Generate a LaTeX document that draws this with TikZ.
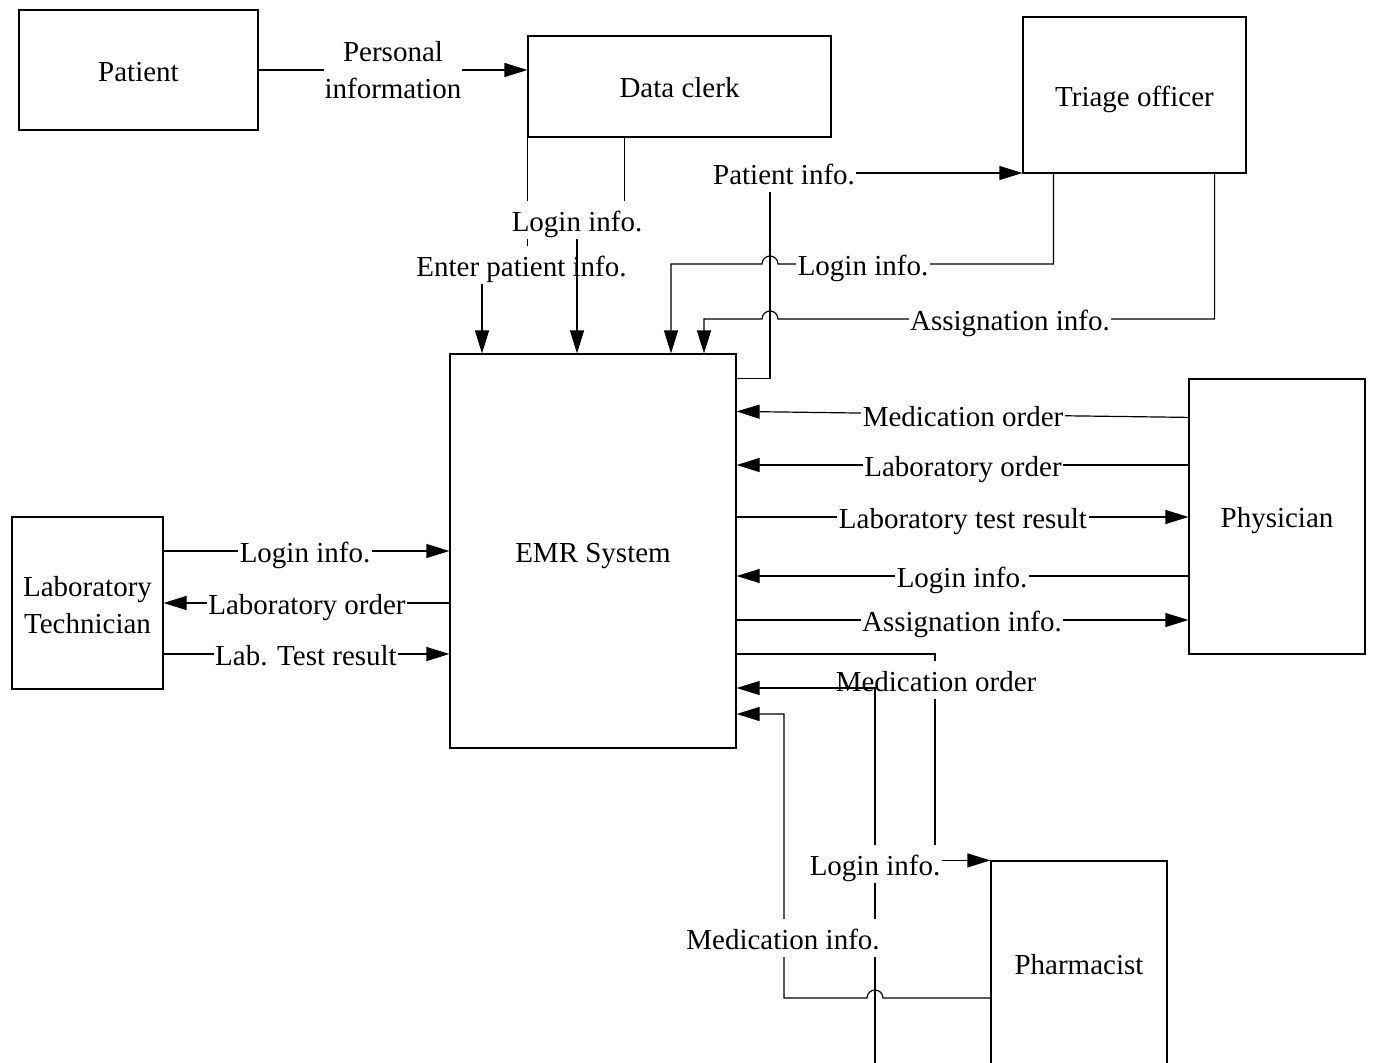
\documentclass[tikz,border=0pt]{standalone}
\usepackage{fontspec}
\setmainfont{Liberation Serif}
\usetikzlibrary{arrows.meta}
\begin{document}
\begin{tikzpicture}[x=1pt,y=-1pt,
  txt/.style={font=\fontsize{29}{37}\selectfont},
  oneline/.style={text height=30pt, text depth=8pt},
  entity/.style={txt, draw, line width=1.2pt, inner sep=0pt, align=center},
  flow/.style={line width=1.2pt},
  arr/.style={flow, -{Triangle[length=23pt,width=14pt]}},
  lbl/.style={txt, oneline, fill=white, inner xsep=1.5pt, inner ysep=0pt, align=center}
]
\useasboundingbox (0,0) rectangle (1374,1063);

% external entities and the system
\node[entity, oneline, minimum width=239pt, minimum height=120pt] (patient) at (138.5,70) {Patient};
\node[entity, oneline, minimum width=303pt, minimum height=101pt] (clerk) at (679.5,86.5) {Data clerk};
\node[entity, oneline, minimum width=223pt, minimum height=156pt] (triage) at (1134.5,95) {Triage officer};
\node[entity, oneline, minimum width=286pt, minimum height=394pt] (emr) at (593,551) {EMR System};
\node[entity, oneline, minimum width=176pt, minimum height=275pt] (phys) at (1277,516.5) {Physician};
\node[entity, minimum width=151pt, minimum height=172pt] (lab) at (87.5,603) {};
\node[txt, align=center] (labtext) at (87.5,605) {Laboratory\\Technician};
\node[entity, oneline, minimum width=176pt, minimum height=204pt] (pharm) at (1079,963) {Pharmacist};

% bend points
\coordinate (c1) at (482,265);
\coordinate (c2) at (577,220);
\coordinate (c3) at (770,173);
\coordinate (c4) at (671,264);
\coordinate (c5) at (704,319);
\coordinate (c6) at (935,654);
\coordinate (c7) at (875,688);
\coordinate (phlog) at (875,1064);
\coordinate (c8) at (784,714);

% patient -> data clerk
\draw[arr] (patient.east) -- (clerk.west |- patient.east);
\node[txt, fill=white, inner sep=1pt, align=center] (lpers) at (393,70) {Personal\\information};

% data clerk -> EMR
\draw[arr] (clerk.south west) |- (c1) -- (c1 |- emr.north);
\node[lbl] (lenter) at (521.5,265) {Enter patient info.};
\draw[arr] ([xshift=97pt]clerk.south west) |- (c2) -- (c2 |- emr.north);
\node[lbl] (lclogin) at (577,220) {Login info.};

% EMR -> triage officer
\draw[arr] ([yshift=-25pt]emr.north east) -| (c3) -- (c3 -| triage.west);
\node[lbl] (lpinfo) at (784,173) {Patient info.};

% triage officer -> EMR (hopping over the patient info. line)
\draw[arr] ([xshift=31pt]triage.south west) |- (778,264)
  arc[start angle=0, end angle=180, radius=8pt] -- (c4) -- (c4 |- emr.north);
\node[lbl] (ltlogin) at (863,264) {Login info.};
\draw[arr] ([xshift=-32pt]triage.south east) |- (778,319)
  arc[start angle=0, end angle=180, radius=8pt] -- (c5) -- (c5 |- emr.north);
\node[lbl] (ltassign) at (1010,319) {Assignation info.};

% physician <-> EMR
\draw[arr] ([yshift=-39pt]phys.north west) -- ([yshift=-58pt]emr.north east);
\node[lbl] (lpmed) at (963,415) {Medication order};
\draw[arr] (phys.west |- 0,465) -- (emr.east |- 0,465);
\node[lbl] (lplab) at (963,465) {Laboratory order};
\draw[arr] (emr.east |- 0,517) -- (phys.west |- 0,517);
\node[lbl] (lpres) at (963,517) {Laboratory test result};
\draw[arr] (phys.west |- 0,576) -- (emr.east |- 0,576);
\node[lbl] (lplogin) at (962,576) {Login info.};
\draw[arr] (emr.east |- 0,620) -- (phys.west |- 0,620);
\node[lbl] (lpassign) at (962,620) {Assignation info.};

% laboratory technician <-> EMR
\draw[arr] (lab.east |- 0,551) -- (emr.west |- 0,551);
\node[lbl] (lllogin) at (305,551) {Login info.};
\draw[arr] (emr.west |- 0,603) -- (lab.east |- 0,603);
\node[lbl] (llorder) at (307,603) {Laboratory order};
\draw[arr] (lab.east |- 0,654) -- (emr.west |- 0,654);
\node[lbl] (llres) at (306,654) {Lab. Test result};

% pharmacist <-> EMR
\draw[arr] (emr.east |- c6) -- (c6) |- (pharm.north west);
\node[lbl] (lmorder) at (936,680) {Medication order};
\draw[arr] (phlog) -- (c7) -- (emr.east |- c7);
\node[lbl] (lmlogin) at (875,864) {Login info.};
\draw[arr] (pharm.west |- 0,998) -- (883,998)
  arc[start angle=0, end angle=180, radius=8pt] -- (c8 |- 0,998) -- (c8) -- (emr.east |- c8);
\node[lbl] (lminfo) at (783,938) {Medication info.};
\end{tikzpicture}
\end{document}
